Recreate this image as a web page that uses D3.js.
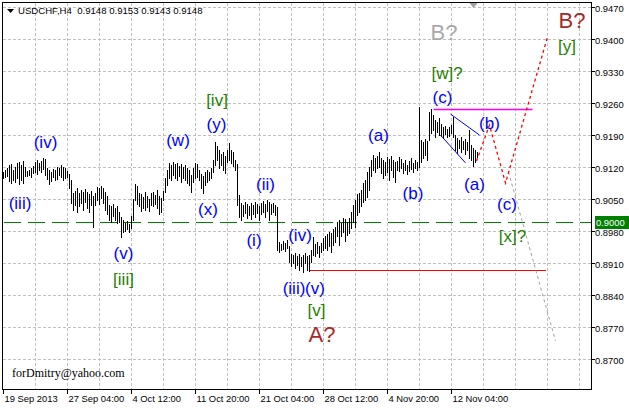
<!DOCTYPE html>
<html><head><meta charset="utf-8">
<script src="https://cdn.jsdelivr.net/npm/d3@7"></script>
<style>body{margin:0;background:#fff}svg{display:block}</style>
</head><body>
<script>
// ---- DATA ----
const symbolTitle = "USDCHF,H4  0.9148 0.9153 0.9143 0.9148";
const highs = [
0.9109,0.9113,0.9118,0.9124,0.9127,0.9113,0.9120,0.9129,0.9131,0.9124,
0.9133,0.9120,0.9111,0.9113,0.9118,0.9122,0.9131,0.9135,0.9129,0.9133,
0.9140,0.9138,0.9118,0.9113,0.9109,0.9116,0.9113,0.9120,0.9118,0.9124,
0.9120,0.9118,0.9111,0.9105,0.9092,0.9063,0.9067,0.9074,0.9063,0.9070,
0.9065,0.9072,0.9065,0.9061,0.9067,0.9057,0.9063,0.9076,0.9074,0.9078,
0.9074,0.9065,0.9057,0.9037,0.9035,0.9039,0.9030,0.9035,0.9021,0.9011,
0.9004,0.8997,0.9002,0.8995,0.9013,0.9050,0.9083,0.9078,0.9063,0.9061,
0.9054,0.9065,0.9057,0.9050,0.9063,0.9065,0.9059,0.9070,0.9057,0.9052,
0.9067,0.9096,0.9113,0.9129,0.9124,0.9131,0.9127,0.9129,0.9122,0.9127,
0.9120,0.9124,0.9118,0.9113,0.9103,0.9118,0.9129,0.9127,0.9113,0.9105,
0.9100,0.9109,0.9113,0.9109,0.9118,0.9135,0.9175,0.9166,0.9157,0.9149,
0.9153,0.9144,0.9157,0.9173,0.9157,0.9153,0.9135,0.9127,0.9059,0.9041,
0.9037,0.9043,0.9039,0.9035,0.9041,0.9037,0.9043,0.9039,0.9035,0.9041,
0.9046,0.9039,0.9048,0.9043,0.9039,0.9041,0.9037,0.9032,0.8956,0.8951,
0.8958,0.8954,0.8960,0.8947,0.8930,0.8927,0.8932,0.8925,0.8930,0.8923,
0.8927,0.8932,0.8925,0.8927,0.8938,0.8967,0.8951,0.8956,0.8947,0.8954,
0.8965,0.8969,0.8973,0.8978,0.8976,0.8984,0.8989,0.9000,0.9004,0.8997,
0.9008,0.9006,0.9000,0.9008,0.9021,0.9037,0.9048,0.9061,0.9063,0.9070,
0.9085,0.9092,0.9109,0.9120,0.9135,0.9146,0.9140,0.9144,0.9153,0.9140,
0.9135,0.9131,0.9142,0.9138,0.9144,0.9135,0.9131,0.9133,0.9142,0.9138,
0.9129,0.9135,0.9124,0.9133,0.9140,0.9129,0.9135,0.9131,0.9252,0.9179,
0.9175,0.9181,0.9177,0.9241,0.9247,0.9234,0.9223,0.9219,0.9227,0.9214,
0.9208,0.9210,0.9203,0.9208,0.9212,0.9230,0.9190,0.9184,0.9179,0.9186,
0.9177,0.9181,0.9175,0.9201,0.9168,0.9162,0.9157,0.9153];
const lows = [
0.9096,0.9098,0.9100,0.9089,0.9085,0.9092,0.9087,0.9096,0.9083,0.9092,
0.9085,0.9100,0.9100,0.9103,0.9098,0.9107,0.9109,0.9105,0.9113,0.9109,
0.9116,0.9103,0.9094,0.9083,0.9089,0.9098,0.9092,0.9094,0.9103,0.9098,
0.9092,0.9096,0.9098,0.9074,0.9041,0.9026,0.9037,0.9021,0.9035,0.9041,
0.9026,0.9043,0.9030,0.9021,0.9037,0.8989,0.9037,0.9048,0.9039,0.9052,
0.9041,0.9026,0.9017,0.9004,0.9000,0.9013,0.9004,0.8997,0.9000,0.8967,
0.8978,0.8980,0.8984,0.8978,0.8986,0.9004,0.9048,0.9039,0.9035,0.9024,
0.9030,0.9026,0.9032,0.9024,0.9037,0.9035,0.9039,0.9030,0.9017,0.9021,
0.9048,0.9065,0.9081,0.9096,0.9092,0.9103,0.9096,0.9092,0.9100,0.9087,
0.9096,0.9092,0.9085,0.9081,0.9065,0.9087,0.9096,0.9098,0.9092,0.9074,
0.9063,0.9081,0.9087,0.9092,0.9096,0.9109,0.9124,0.9135,0.9118,0.9124,
0.9113,0.9107,0.9131,0.9135,0.9129,0.9122,0.9113,0.9037,0.9011,0.9004,
0.9013,0.9019,0.9008,0.9015,0.9006,0.9017,0.9011,0.9019,0.9004,0.9017,
0.9021,0.9011,0.9024,0.9004,0.9017,0.9021,0.9015,0.8938,0.8934,0.8938,
0.8941,0.8936,0.8943,0.8912,0.8903,0.8910,0.8899,0.8906,0.8895,0.8903,
0.8890,0.8910,0.8895,0.8892,0.8912,0.8927,0.8925,0.8932,0.8923,0.8934,
0.8938,0.8943,0.8938,0.8947,0.8934,0.8949,0.8956,0.8969,0.8949,0.8969,
0.8978,0.8958,0.8971,0.8976,0.8986,0.9000,0.8989,0.9015,0.9021,0.9035,
0.9043,0.9048,0.9054,0.9070,0.9100,0.9113,0.9109,0.9118,0.9120,0.9107,
0.9096,0.9103,0.9109,0.9092,0.9113,0.9098,0.9087,0.9113,0.9111,0.9118,
0.9107,0.9113,0.9105,0.9111,0.9116,0.9109,0.9118,0.9113,0.9120,0.9131,
0.9140,0.9146,0.9135,0.9179,0.9195,0.9201,0.9186,0.9197,0.9190,0.9188,
0.9184,0.9192,0.9186,0.9188,0.9195,0.9186,0.9157,0.9151,0.9162,0.9153,
0.9160,0.9149,0.9157,0.9140,0.9135,0.9122,0.9131,0.9143];
const priceTickLabels = ["0.9470","0.9400","0.9330","0.9260","0.9190","0.9120","0.9050","0.8980","0.8910","0.8840","0.8770","0.8700"];
const dateTickBars = [0,32,64,96,128,160,192,224];
const dateTickLabels = ["19 Sep 2013","27 Sep 04:00","4 Oct 12:00","11 Oct 20:00","21 Oct 04:00","28 Oct 12:00","4 Nov 20:00","12 Nov 04:00"];
const levelPrice = 0.9000;
// annotation geometry in (bar index, price)
const triangleUpper = [[223.5,0.9236],[238,0.9190]];
const triangleLower = [[218.5,0.9190],[231,0.9129]];
const magentaLevel = [[215,0.9247],[264.5,0.9247]];
const redLevel = [[153,0.8895],[271,0.8895]];
const redForecast = [[236.5,0.9133],[243,0.9212],[251,0.9085],[272,0.9405]];
const grayForecast = [[252.5,0.9109],[276,0.8739]];
const waveLabels = [
 {t:"(iii)",i:8.25,p:0.9041,c:"blue"},
 {t:"(iv)",i:21,p:0.9173,c:"blue"},
 {t:"(v)",i:60,p:0.8930,c:"blue"},
 {t:"[iii]",i:60,p:0.8873,c:"green"},
 {t:"(w)",i:87.25,p:0.9179,c:"blue"},
 {t:"[iv]",i:106.75,p:0.9265,c:"green"},
 {t:"(y)",i:106.5,p:0.9214,c:"blue"},
 {t:"(x)",i:102.25,p:0.9026,c:"blue"},
 {t:"(ii)",i:131,p:0.9081,c:"blue"},
 {t:"(i)",i:125.25,p:0.8958,c:"blue"},
 {t:"(iv)",i:148.25,p:0.8969,c:"blue"},
 {t:"(iii)",i:145.25,p:0.8853,c:"blue"},
 {t:"(v)",i:155.75,p:0.8853,c:"blue"},
 {t:"[v]",i:156.5,p:0.8805,c:"green"},
 {t:"A?",i:159.25,p:0.8752,c:"brown"},
 {t:"(a)",i:187.5,p:0.9188,c:"blue"},
 {t:"(b)",i:204.75,p:0.9061,c:"blue"},
 {t:"(c)",i:219.5,p:0.9273,c:"blue"},
 {t:"[w]?",i:221.75,p:0.9326,c:"green"},
 {t:"B?",i:220.25,p:0.9414,c:"gray"},
 {t:"(b)",i:243,p:0.9216,c:"blue"},
 {t:"(a)",i:235.5,p:0.9081,c:"blue"},
 {t:"(c)",i:251.75,p:0.9037,c:"blue"},
 {t:"[x]?",i:254.5,p:0.8967,c:"green"},
 {t:"B?",i:284.25,p:0.9442,c:"brown"},
 {t:"[y]",i:281.75,p:0.9385,c:"green"}
];
const credit = "forDmitry@yahoo.com";

// ---- STYLE / LAYOUT ----
const W = 629, H = 408;
const L = 3, R = 591, T = 3, B = 389;
const colors = {blue:"#0000ff", green:"#1f7f00", brown:"#a52a2a", gray:"#a9a9a9"};
const sizes = {blue:17, green:17, brown:22, gray:22};
const font = "'Liberation Sans', Arial, sans-serif";
const axisFont = 9.4;

const x = d3.scaleLinear().domain([0, 294]).range([L + 0.5, R + 0.5]);
const y = d3.scaleLinear().domain([0.86336, 0.94794]).range([B, T]);

const svg = d3.select("body").append("svg").attr("width", W).attr("height", H)
  .style("font-family", font);
svg.append("rect").attr("width", W).attr("height", H).attr("fill", "#fff");

// grid
const g = svg.append("g").attr("shape-rendering", "crispEdges");
g.selectAll("line.hg").data(priceTickLabels).join("line")
  .attr("x1", L).attr("x2", R)
  .attr("y1", d => Math.round(y(+d)) + 0.5).attr("y2", d => Math.round(y(+d)) + 0.5)
  .attr("stroke", "#c0c0c0").attr("stroke-dasharray", "3,2");
const vgrid = d3.range(16, 294, 16);
g.selectAll("line.vg").data(vgrid).join("line")
  .attr("x1", d => Math.floor(x(d)) + 0.5).attr("x2", d => Math.floor(x(d)) + 0.5)
  .attr("y1", T).attr("y2", B)
  .attr("stroke", "#c0c0c0").attr("stroke-dasharray", "3,2");

// level line
g.append("line").attr("x1", L + 1).attr("x2", R)
  .attr("y1", Math.round(y(levelPrice)) + 0.5).attr("y2", Math.round(y(levelPrice)) + 0.5)
  .attr("stroke", "#008000").attr("stroke-dasharray", "17,7");

// bars
g.selectAll("line.bar").data(highs).join("line")
  .attr("x1", (d, i) => Math.floor(x(i)) + 0.5).attr("x2", (d, i) => Math.floor(x(i)) + 0.5)
  .attr("y1", d => Math.round(y(d))).attr("y2", (d, i) => Math.round(y(lows[i])) + 1)
  .attr("stroke", "#000").attr("stroke-width", 1);

// annotation lines
const line = d3.line().x(d => x(d[0])).y(d => y(d[1]));
svg.append("path").attr("d", line(triangleUpper)).attr("stroke", "#0000ff").attr("fill", "none");
svg.append("path").attr("d", line(triangleLower)).attr("stroke", "#0000ff").attr("fill", "none");
const crispLine = d3.line().x(d => x(d[0])).y(d => Math.round(y(d[1])) + 0.5);
svg.append("path").attr("d", crispLine(magentaLevel)).attr("stroke", "#ff00ff").attr("stroke-width", 1.5).attr("fill", "none");
svg.append("path").attr("d", crispLine(redLevel)).attr("stroke", "#ff0000").attr("stroke-width", 1).attr("shape-rendering", "crispEdges").attr("fill", "none");
svg.append("path").attr("d", line(grayForecast)).attr("stroke", "#a0a0a0").attr("stroke-dasharray", "3,3").attr("fill", "none");
svg.append("path").attr("d", line(redForecast)).attr("stroke", "#ff0000").attr("stroke-width", 1.3).attr("stroke-dasharray", "3,3").attr("fill", "none");

// labels
svg.selectAll("text.wl").data(waveLabels).join("text")
  .attr("x", d => x(d.i)).attr("y", d => y(d.p))
  .attr("text-anchor", "middle").attr("dominant-baseline", "central")
  .attr("font-size", d => sizes[d.c]).attr("fill", d => colors[d.c])
  .text(d => d.t);

// frame
svg.append("rect").attr("x", L - 0.5).attr("y", T - 0.5).attr("width", R - L + 1).attr("height", B - T + 1)
  .attr("fill", "none").attr("stroke", "#000").attr("shape-rendering", "crispEdges");

// right axis
const ra = svg.append("g").attr("shape-rendering", "crispEdges");
priceTickLabels.forEach(s => {
  const yy = Math.round(y(+s)) + 0.5;
  ra.append("line").attr("x1", R).attr("x2", R + 4).attr("y1", yy).attr("y2", yy).attr("stroke", "#000");
  ra.append("text").attr("x", R + 4).attr("y", yy + 4).attr("font-size", axisFont).attr("fill", "#000").text(s);
});
const ly = Math.round(y(levelPrice));
ra.append("rect").attr("x", R + 4).attr("y", ly - 6).attr("width", W - R - 4).attr("height", 13).attr("fill", "#008000");
ra.append("text").attr("x", R + 5).attr("y", ly + 4).attr("font-size", axisFont).attr("fill", "#fff").text(levelPrice.toFixed(4));

// bottom axis
dateTickBars.forEach((b, k) => {
  const xx = Math.floor(x(b)) + 0.5;
  ra.append("line").attr("x1", xx).attr("x2", xx).attr("y1", B).attr("y2", B + 5).attr("stroke", "#000");
  ra.append("text").attr("x", xx + 1).attr("y", B + 13).attr("font-size", axisFont).attr("fill", "#000").text(dateTickLabels[k]);
});

// title
svg.append("path").attr("d", "M7,9 L14,9 L10.5,13 Z").attr("fill", "#000");
svg.append("text").attr("x", 18).attr("y", 14).attr("font-size", 9.6).attr("fill", "#000")
  .attr("xml:space", "preserve").style("white-space", "pre").text(symbolTitle);
// shift marker
svg.append("path").attr("d", `M${x(235)-4},3 L${x(235)+4},3 L${x(235)},8 Z`).attr("fill", "#a0a0a0");

// credit
svg.append("text").attr("x", 12).attr("y", 377).attr("font-size", 12)
  .attr("font-family", "'Liberation Serif', 'Times New Roman', serif").attr("fill", "#000").text(credit);
</script>
</body></html>
